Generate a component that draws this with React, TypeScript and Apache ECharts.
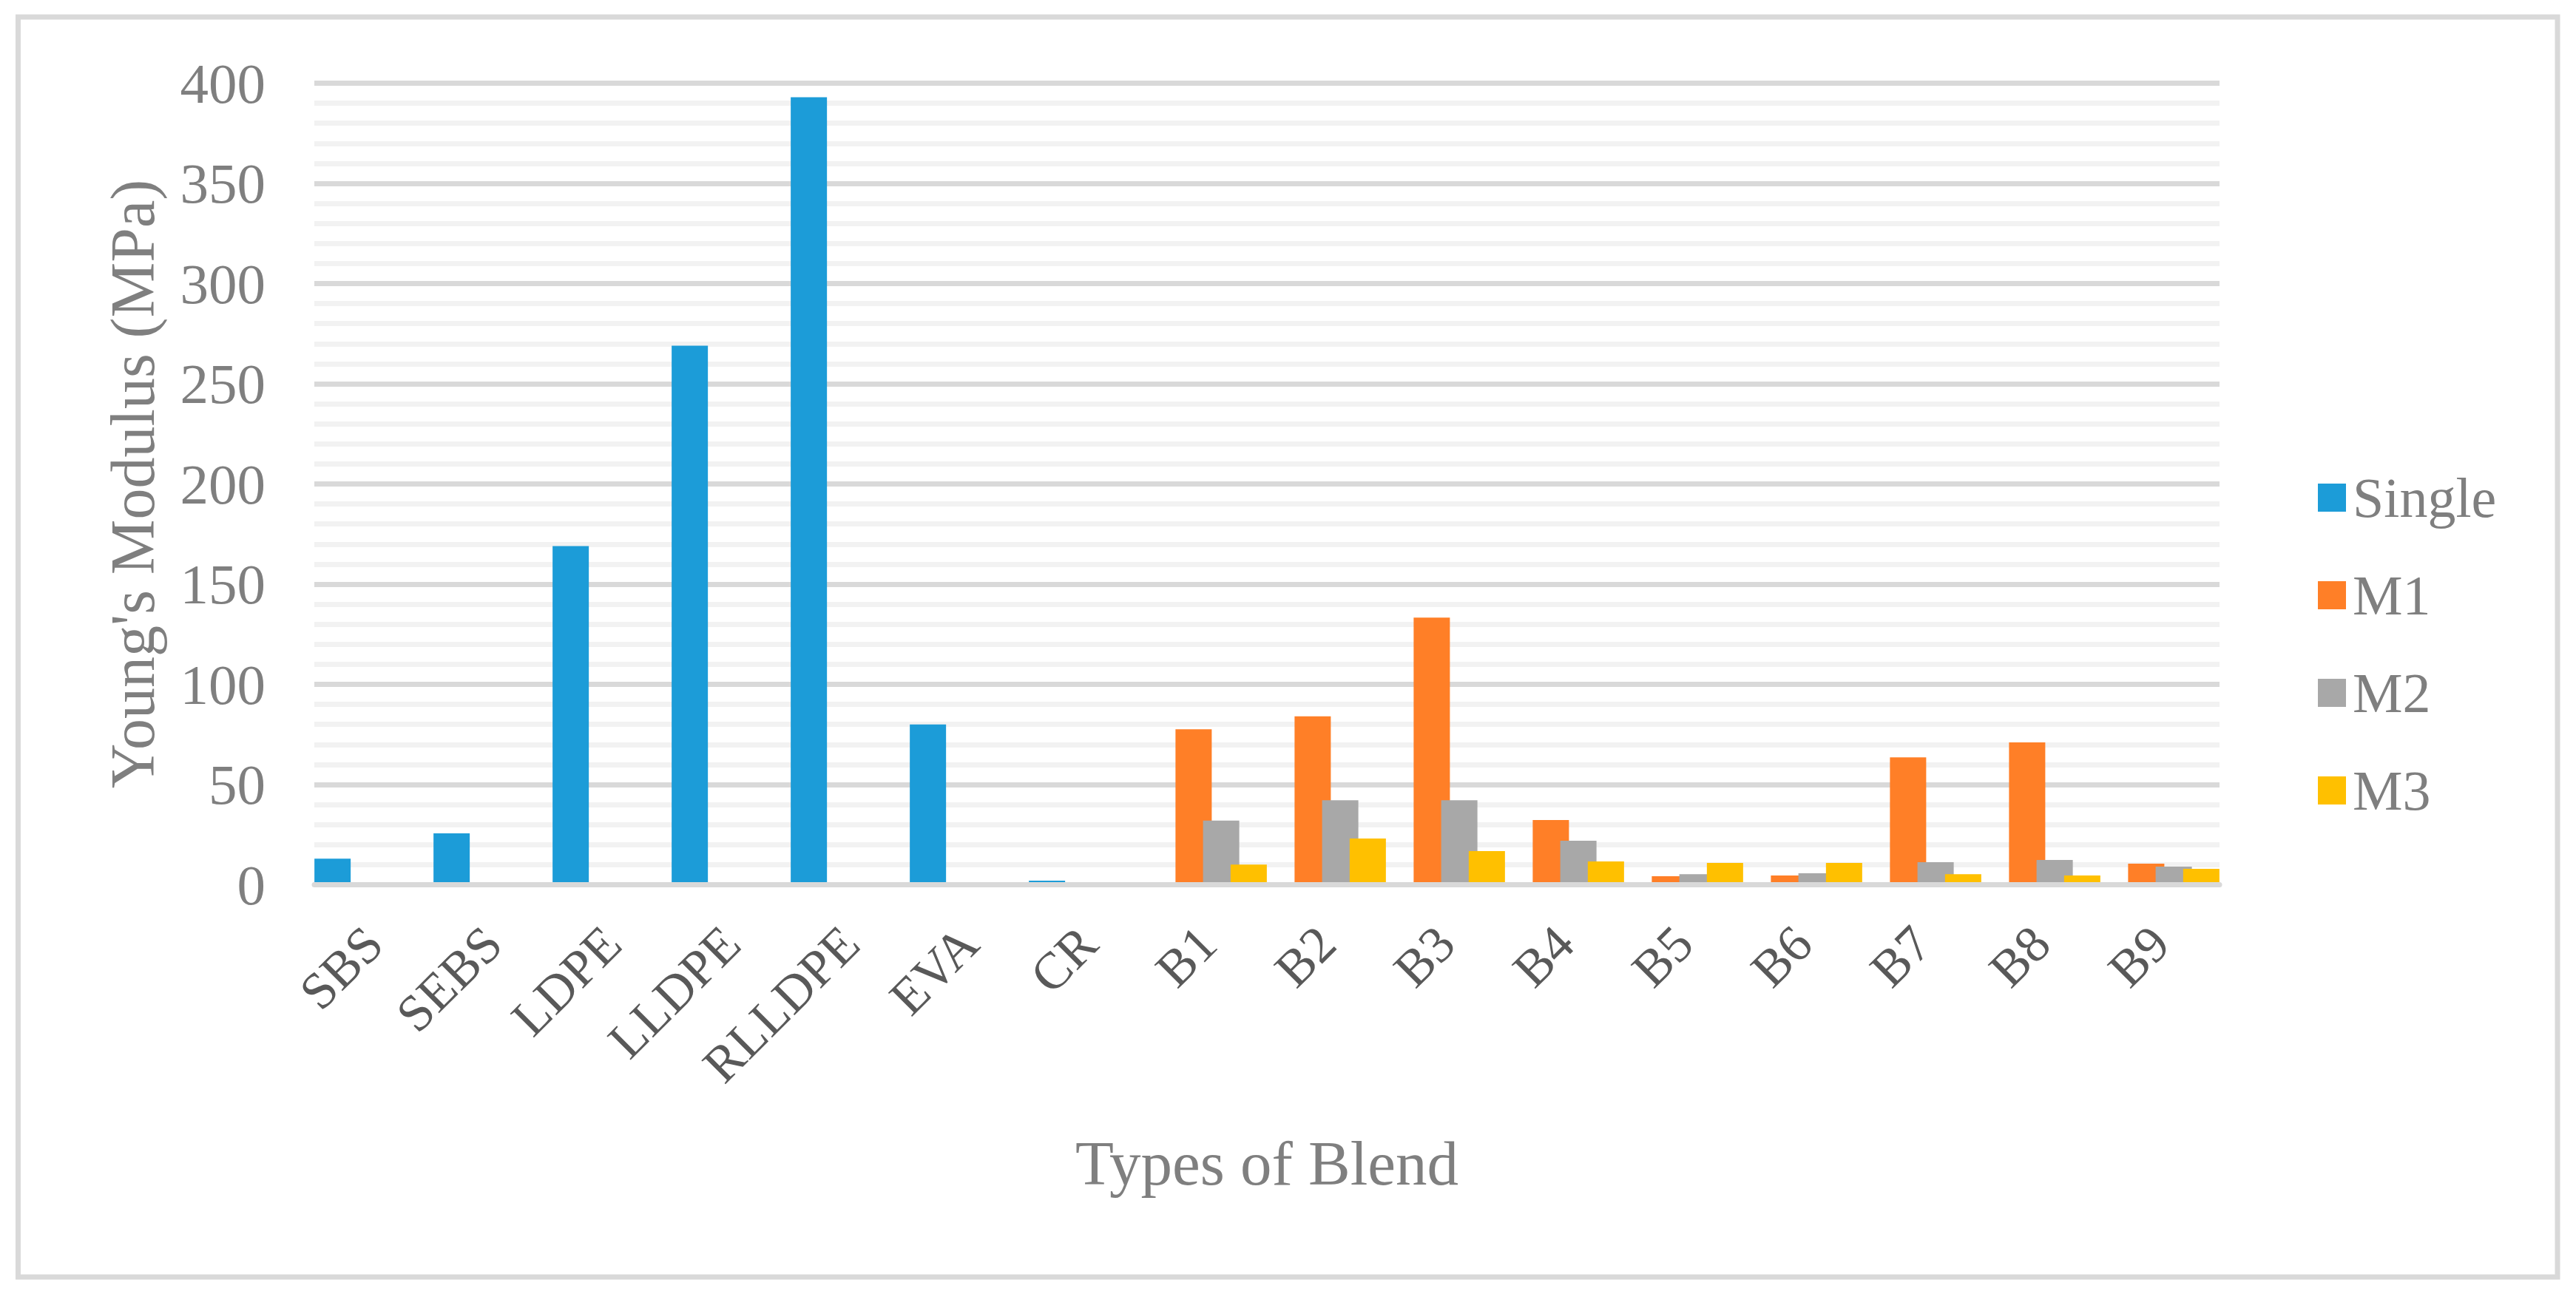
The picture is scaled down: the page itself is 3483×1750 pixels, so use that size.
import React, { useEffect, useRef } from "react";
import * as echarts from "echarts";

const categories = ["SBS", "SEBS", "LDPE", "LLDPE", "RLLDPE", "EVA", "CR", "B1", "B2", "B3", "B4", "B5", "B6", "B7", "B8", "B9"];
const seriesNames = ["Single", "M1", "M2", "M3"];
const singleValues = [13, 25.6, 169, 269, 393, 80, 2, null, null, null, null, null, null, null, null, null];
const m1Values = [null, null, null, null, null, null, null, 77.6, 84, 133.3, 32.3, 4.2, 4.6, 63.6, 71, 10.5];
const m2Values = [null, null, null, null, null, null, null, 32, 42.2, 42.2, 22, 5.3, 5.7, 11.3, 12.4, 9];
const m3Values = [null, null, null, null, null, null, null, 10.1, 23.1, 16.8, 11.6, 10.9, 10.9, 5.3, 4.6, 7.9];
const colors = ["#1C9CD8", "#FF7F27", "#A8A8A8", "#FFC000"];
const yTitle = "Young's Modulus (MPa)";
const xTitle = "Types of Blend";

const FONT = "'Liberation Serif', 'Times New Roman', serif";

export default function App() {
  const ref = useRef<HTMLDivElement>(null);
  useEffect(() => {
    if (!ref.current) return;
    const chart = echarts.init(ref.current, null, { renderer: "svg" });
    const allValues = [singleValues, m1Values, m2Values, m3Values];
    chart.setOption({
      animation: false,
      backgroundColor: "#ffffff",
      textStyle: { fontFamily: FONT },
      graphic: [
        {
          type: "rect",
          shape: { x: 24.5, y: 23, width: 3433.5, height: 1704 },
          style: { fill: "none", stroke: "#D9D9D9", lineWidth: 7 },
          silent: true,
        },
      ],
      grid: { left: 425, right: 482, top: 112.5, bottom: 553.5, containLabel: false },
      legend: {
        orient: "vertical",
        left: 3129,
        top: 630,
        itemWidth: 38,
        itemHeight: 38,
        itemGap: 56,
        icon: "rect",
        data: seriesNames,
        textStyle: {
          fontFamily: FONT,
          fontSize: 76,
          color: "#7F7F7F",
          lineHeight: 76,
          padding: [0, 0, 0, 4],
        },
      },
      xAxis: {
        type: "category",
        data: categories,
        z: 3,
        name: xTitle,
        nameLocation: "middle",
        nameGap: 334,
        nameTextStyle: { fontFamily: FONT, fontSize: 85, color: "#7F7F7F" },
        axisLine: { show: true, lineStyle: { color: "#D9D9D9", width: 7 } },
        axisTick: { show: false },
        axisLabel: {
          rotate: 45,
          interval: 0,
          margin: 68,
          fontFamily: FONT,
          fontSize: 70,
          color: "#595959",
        },
        splitLine: { show: false },
      },
      yAxis: {
        type: "value",
        min: 0,
        max: 400,
        interval: 50,
        name: yTitle,
        nameLocation: "middle",
        nameGap: 204,
        nameTextStyle: { fontFamily: FONT, fontSize: 84, color: "#7F7F7F" },
        axisLine: { show: false },
        axisTick: { show: false },
        axisLabel: { margin: 66, fontFamily: FONT, fontSize: 77, color: "#7F7F7F" },
        splitLine: { show: true, lineStyle: { color: "#D9D9D9", width: 7 } },
        minorTick: { show: false, splitNumber: 5 },
        minorSplitLine: { show: true, lineStyle: { color: "#F2F2F2", width: 7 } },
      },
      series: seriesNames.map((name, i) => ({
        name,
        type: "bar",
        data: allValues[i],
        barWidth: 49,
        barGap: "-24%",
        itemStyle: { color: colors[i] },
      })),
    });
    return () => chart.dispose();
  }, []);
  return (
    <div
      ref={ref}
      style={{ position: "fixed", left: 0, top: 0, width: 3483, height: 1750 }}
    />
  );
}
